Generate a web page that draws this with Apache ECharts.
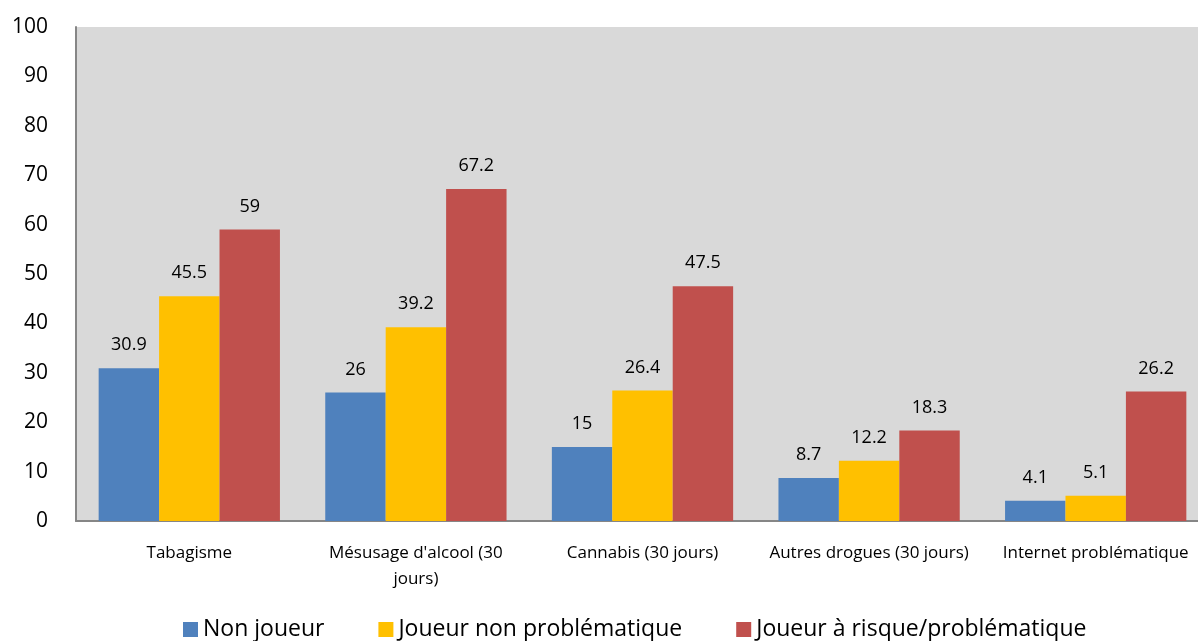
<!DOCTYPE html>
<html>
<head>
<meta charset="utf-8">
<script src="https://cdn.jsdelivr.net/npm/echarts@6/dist/echarts.min.js"></script>
<style>
  html, body { margin: 0; padding: 0; background: #fff; overflow: hidden; }
  /* a bit wider than the window: the plot runs past the right edge, like the original */
  #chart { width: 1209px; height: 641px; }
</style>
</head>
<body>
<div id="chart"></div>
<script>
// Chart data
var categories = ['Tabagisme', "Mésusage d'alcool (30\njours)", 'Cannabis (30 jours)', 'Autres drogues (30 jours)', 'Internet problématique'];
var nonJoueur = [30.9, 26, 15, 8.7, 4.1];
var joueurNonProb = [45.5, 39.2, 26.4, 12.2, 5.1];
var joueurRisque = [59, 67.2, 47.5, 18.3, 26.2];
var seriesNames = ['Non joueur', 'Joueur non problématique', 'Joueur à risque/problématique'];
var colors = ['#4F81BD', '#FFC000', '#C0504D'];

var font = '"Open Sans", sans-serif';

function makeSeries(name, values, color) {
  return {
    name: name,
    type: 'bar',
    data: values,
    barGap: '0%',
    barCategoryGap: '20%',
    itemStyle: { color: color },
    label: {
      show: true,
      position: 'top',
      distance: 14,
      color: '#000',
      fontSize: 18,
      fontFamily: font
    }
  };
}

var myChart = echarts.init(document.getElementById('chart'));

myChart.setOption({
  animation: false,
  textStyle: { fontFamily: font },
  grid: {
    left: 76, right: 0, top: 27, bottom: 120,
    show: true, backgroundColor: '#D9D9D9', borderWidth: 0
  },
  legend: {
    top: 613,
    left: 178,
    itemWidth: 15,
    itemHeight: 15,
    itemGap: 54,
    icon: 'rect',
    textStyle: { fontSize: 23, color: '#000', fontFamily: font },
    data: seriesNames
  },
  xAxis: {
    type: 'category',
    data: categories,
    axisLine: { lineStyle: { color: '#868686', width: 2 } },
    axisTick: { show: false },
    axisLabel: { color: '#000', fontSize: 17, margin: 19, lineHeight: 26, interval: 0, fontFamily: font }
  },
  yAxis: {
    type: 'value',
    min: 0,
    max: 100,
    interval: 10,
    axisLine: { show: true, lineStyle: { color: '#868686', width: 2 } },
    axisTick: { show: false },
    splitLine: { show: false },
    axisLabel: { color: '#000', fontSize: 21, margin: 28, fontFamily: font }
  },
  series: [
    makeSeries(seriesNames[0], nonJoueur, colors[0]),
    makeSeries(seriesNames[1], joueurNonProb, colors[1]),
    makeSeries(seriesNames[2], joueurRisque, colors[2])
  ]
});
</script>
</body>
</html>
